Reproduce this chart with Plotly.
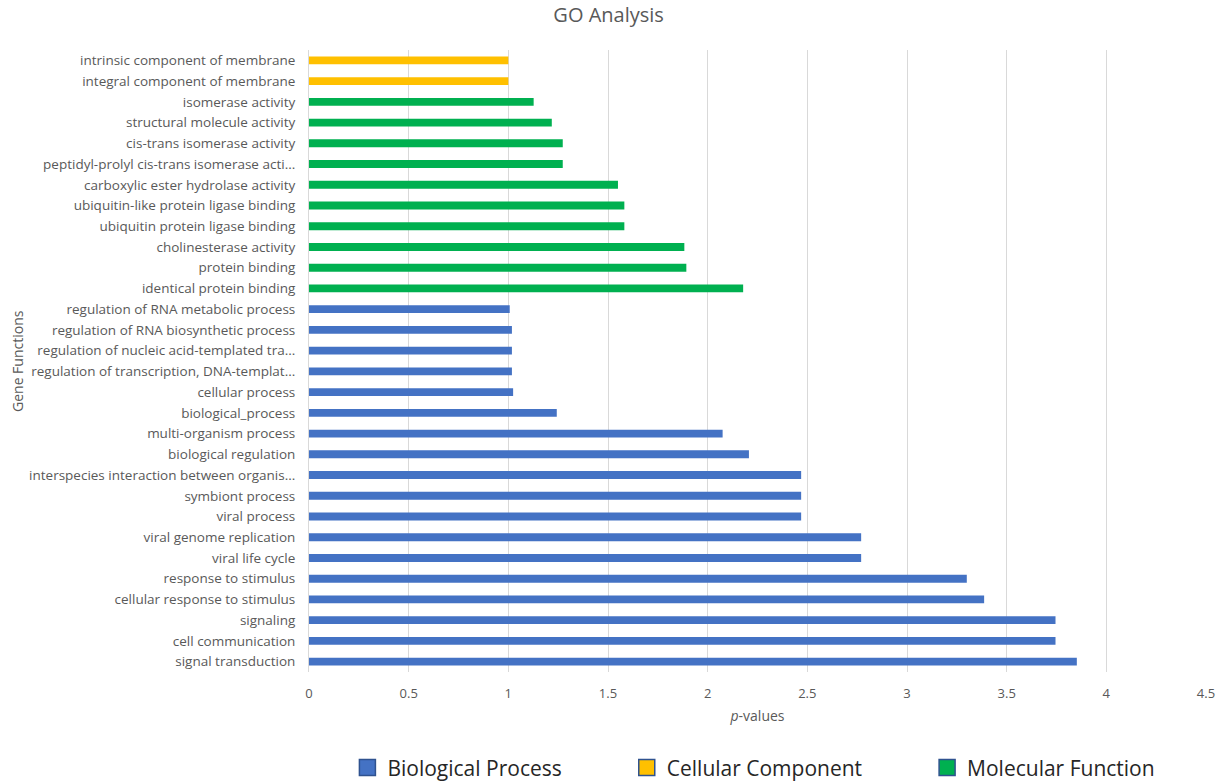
import plotly.graph_objects as go

# categories listed bottom -> top
bp_terms = [
    "signal transduction", "cell communication", "signaling",
    "cellular response to stimulus", "response to stimulus", "viral life cycle",
    "viral genome replication", "viral process", "symbiont process",
    "interspecies interaction between organis...", "biological regulation",
    "multi-organism process", "biological_process", "cellular process",
    "regulation of transcription, DNA-templat...",
    "regulation of nucleic acid-templated tra...",
    "regulation of RNA biosynthetic process",
    "regulation of RNA metabolic process",
]
bp_values = [3.852, 3.745, 3.745, 3.387, 3.300, 2.770, 2.770, 2.469, 2.469,
             2.469, 2.207, 2.075, 1.243, 1.024, 1.018, 1.018, 1.018, 1.007]

mf_terms = [
    "identical protein binding", "protein binding", "cholinesterase activity",
    "ubiquitin protein ligase binding", "ubiquitin-like protein ligase binding",
    "carboxylic ester hydrolase activity",
    "peptidyl-prolyl cis-trans isomerase acti...",
    "cis-trans isomerase activity", "structural molecule activity",
    "isomerase activity",
]
mf_values = [2.178, 1.893, 1.883, 1.582, 1.582, 1.550, 1.273, 1.273, 1.218, 1.127]

cc_terms = ["integral component of membrane", "intrinsic component of membrane"]
cc_values = [1.0, 1.0]

x_ticks = [0, 0.5, 1, 1.5, 2, 2.5, 3, 3.5, 4, 4.5]
x_tick_labels = ["0", "0.5", "1", "1.5", "2", "2.5", "3", "3.5", "4", "4.5"]

category_order = bp_terms + mf_terms + cc_terms

colors = {"Biological Process": "#4472C4",
          "Cellular Component": "#FFC000",
          "Molecular Function": "#00B050"}
border = "#2F528F"
font_family = "Open Sans, Liberation Sans, sans-serif"
text_gray = "#595959"

fig = go.Figure()
series = [("Biological Process", bp_terms, bp_values),
          ("Cellular Component", cc_terms, cc_values),
          ("Molecular Function", mf_terms, mf_values)]
for name, terms, vals in series:
    fig.add_trace(go.Bar(
        x=vals, y=terms, orientation="h", name=name,
        marker=dict(color=colors[name], line=dict(width=0)),
        width=0.38, showlegend=False, hoverinfo="x+y"))
# legend entries
legend_pad = ["           ", "           ", ""]
for (name, terms, vals), pad in zip(series, legend_pad):
    fig.add_trace(go.Scatter(
        x=[None], y=[terms[0]], mode="markers", name=name + pad,
        marker=dict(color=colors[name], symbol="square", size=20,
                    line=dict(width=1.5, color=border)),
        showlegend=True))

fig.update_layout(
    width=1232, height=782,
    margin=dict(l=309, r=26, t=50, b=110, autoexpand=False),
    paper_bgcolor="white", plot_bgcolor="white",
    barmode="relative",
    bargap=0.62,
    font=dict(family=font_family, color=text_gray, size=13),
    title=dict(text="GO Analysis", x=0.494, xanchor="center", y=0.981,
               yanchor="middle",
               font=dict(size=20, color=text_gray, family=font_family)),
    xaxis=dict(range=[0, 4.5], tickvals=x_ticks, ticktext=x_tick_labels,
               showgrid=True, gridcolor="#D9D9D9", gridwidth=1,
               zeroline=False, showline=False,
               ticks="", ticklabelstandoff=12,
               tickfont=dict(size=13, color=text_gray),
               title=dict(text="<i>p</i>-values", standoff=10,
                          font=dict(size=14, color=text_gray))),
    yaxis=dict(categoryorder="array", categoryarray=category_order,
               range=[-0.5, len(category_order) - 0.5],
               showgrid=False, zeroline=False,
               showline=True, linecolor="#D9D9D9", linewidth=1,
               ticks="", ticklabelstandoff=10,
               tickfont=dict(size=13.5, color=text_gray)),
    legend=dict(orientation="h", x=0.496, xanchor="center",
                yref="container", y=0.018, yanchor="middle",
                font=dict(size=21, color="#262626"),
                itemsizing="trace", traceorder="normal"),
    annotations=[dict(text="Gene Functions", textangle=-90,
                      xref="paper", yref="paper",
                      x=(17 - 309) / 897, y=0.5,
                      xanchor="center", yanchor="middle", showarrow=False,
                      font=dict(size=14, color=text_gray))],
)

fig.write_html("out.html")
